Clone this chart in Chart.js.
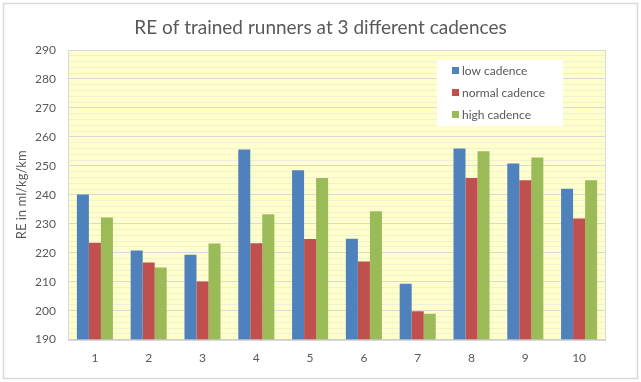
<!DOCTYPE html>
<html>
<head>
<meta charset="utf-8">
<script src="https://cdn.jsdelivr.net/npm/chart.js@4/dist/chart.umd.min.js"></script>
<style>
  html, body { margin: 0; padding: 0; background: #ffffff; }
  #wrap { width: 641px; height: 382px; position: relative; }
</style>
</head>
<body>
<div id="wrap"><canvas id="c" width="641" height="382"></canvas></div>
<script>
const categories = ['1', '2', '3', '4', '5', '6', '7', '8', '9', '10'];
const seriesNames = ['low cadence', 'normal cadence', 'high cadence'];
const lowCadence    = [240.1, 220.8, 219.3, 255.6, 248.5, 224.8, 209.3, 256.0, 250.8, 242.1];
const normalCadence = [223.4, 216.6, 210.1, 223.3, 224.7, 217.0, 199.8, 245.8, 245.0, 231.8];
const highCadence   = [232.2, 214.9, 223.2, 233.3, 245.8, 234.3, 198.9, 255.0, 252.9, 245.0];
const seriesColors = ['#4F81BD', '#C0504D', '#9BBB59'];
const yMin = 190, yMax = 290, yMajorStep = 10, yMinorStep = 2;
const titleText = 'RE of trained runners at 3 different cadences';
const yAxisTitle = 'RE in ml/kg/km';

const FONT = 'Lato';
const TEXT = '#595959';

const bgPlugin = {
  id: 'bgPlugin',
  beforeDraw(chart) {
    const ctx = chart.ctx, a = chart.chartArea;
    ctx.save();
    ctx.fillStyle = '#ffffff';
    ctx.fillRect(0, 0, chart.width, chart.height);
    ctx.strokeStyle = '#D9D9D9';
    ctx.lineWidth = 1.5;
    ctx.strokeRect(3.5, 3.5, chart.width - 7, chart.height - 7);
    ctx.fillStyle = '#FFFFCC';
    ctx.fillRect(a.left, a.top, a.right - a.left, a.bottom - a.top);
    ctx.restore();
  },
  afterDatasetsDraw(chart) {
    const ctx = chart.ctx, a = chart.chartArea;
    ctx.save();
    ctx.strokeStyle = '#D9D9D9';
    ctx.lineWidth = 1;
    ctx.beginPath();
    ctx.moveTo(a.left + 0.5, a.bottom);
    ctx.lineTo(a.left + 0.5, a.top + 0.5);
    ctx.lineTo(a.right - 0.5, a.top + 0.5);
    ctx.lineTo(a.right - 0.5, a.bottom);
    ctx.stroke();
    ctx.strokeStyle = '#BFBFBF';
    ctx.beginPath();
    ctx.moveTo(a.left, a.bottom + 0.5);
    ctx.lineTo(a.right, a.bottom + 0.5);
    ctx.stroke();
    // legend box inside plot area
    const lx = 437, ly = 60, lw = 126, lh = 66;
    ctx.fillStyle = '#ffffff';
    ctx.fillRect(lx, ly, lw, lh);
    ctx.font = '12px ' + FONT;
    ctx.textBaseline = 'middle';
    ctx.textAlign = 'left';
    chart.data.datasets.forEach((ds, i) => {
      const cy = ly + 11 + i * 22;
      ctx.fillStyle = ds.backgroundColor;
      ctx.fillRect(lx + 15, cy - 4, 7, 7);
      ctx.fillStyle = TEXT;
      ctx.fillText(ds.label, lx + 25, cy);
    });
    ctx.restore();
  }
};

new Chart(document.getElementById('c'), {
  type: 'bar',
  data: {
    labels: categories,
    datasets: [
      { label: seriesNames[0], data: lowCadence, backgroundColor: seriesColors[0] },
      { label: seriesNames[1], data: normalCadence, backgroundColor: seriesColors[1] },
      { label: seriesNames[2], data: highCadence, backgroundColor: seriesColors[2] }
    ]
  },
  options: {
    responsive: false,
    animation: false,
    devicePixelRatio: 1,
    layout: { padding: { left: 10, right: 10, top: 0, bottom: 6 } },
    datasets: { bar: { barPercentage: 1.0, categoryPercentage: 0.67, borderWidth: 0 } },
    plugins: {
      legend: { display: false },
      tooltip: { enabled: false },
      title: {
        display: true,
        text: titleText,
        color: TEXT,
        font: { family: FONT, size: 19, weight: 'normal' },
        padding: { top: 16.5, bottom: 10.7 }
      }
    },
    scales: {
      x: {
        grid: { display: false, drawTicks: false },
        border: { display: false },
        ticks: { color: TEXT, font: { family: FONT, size: 12 }, padding: 11 }
      },
      y: {
        min: yMin,
        max: yMax,
        border: { display: false },
        grid: {
          drawTicks: false,
          color: (c) => (c.tick && c.tick.value % yMajorStep === 0) ? '#D9D9D9' : '#F2EFD2',
          lineWidth: 1
        },
        ticks: {
          stepSize: yMinorStep,
          autoSkip: false,
          padding: 12,
          color: TEXT,
          font: { family: FONT, size: 12 },
          callback: (v) => (v % yMajorStep === 0 ? v : '')
        },
        title: {
          display: true,
          text: yAxisTitle,
          color: TEXT,
          font: { family: FONT, size: 13 },
          padding: { top: 4, bottom: 4 }
        },
        afterFit: (s) => { s.width = 58; }
      },
      ySpacer: {
        position: 'right',
        min: yMin,
        max: yMax,
        grid: { display: false, drawTicks: false },
        border: { display: false },
        ticks: { display: false },
        afterFit: (s) => { s.width = 25; }
      }
    }
  },
  plugins: [bgPlugin]
});
</script>
</body>
</html>
